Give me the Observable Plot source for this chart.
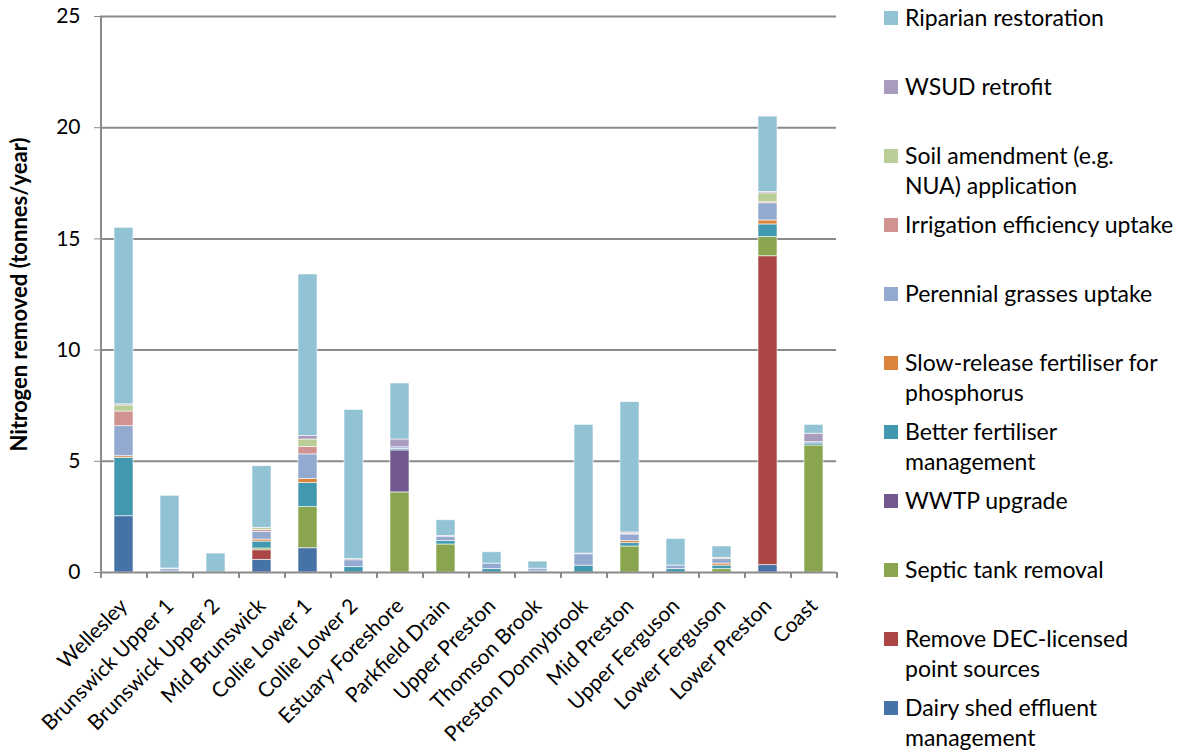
<!DOCTYPE html>
<html>
<head>
<meta charset="utf-8">
<script src="https://cdn.jsdelivr.net/npm/d3@7"></script>
<script src="https://cdn.jsdelivr.net/npm/@observablehq/plot@0.6"></script>
<style>
  html, body { margin: 0; padding: 0; background: #fff; }
  #wrap { position: relative; width: 1182px; height: 753px; font-family: Lato, "Open Sans", sans-serif; }
  #legend { position: absolute; left: 0; top: 0; }
  .item { position: absolute; left: 884px; font-size: 23px; line-height: 29.5px; color: #000; white-space: nowrap; }
  .sw { position: absolute; left: 0; top: 8px; width: 14px; height: 14px; }
  .txt { position: absolute; left: 21px; top: 0; }
</style>
</head>
<body>
<div id="wrap"><div id="chart"></div><div id="legend"></div></div>
<script>
const categories = ["Wellesley","Brunswick Upper 1","Brunswick Upper 2","Mid Brunswick","Collie Lower 1","Collie Lower 2","Estuary Foreshore","Parkfield Drain","Upper Preston","Thomson Brook","Preston Donnybrook","Mid Preston","Upper Ferguson","Lower Ferguson","Lower Preston","Coast"];

// stacked bottom -> top
const seriesNames = ["Dairy shed effluent management","Remove DEC-licensed point sources","Septic tank removal","WWTP upgrade","Better fertiliser management","Slow-release fertiliser  for phosphorus","Perennial grasses uptake","Irrigation efficiency uptake","Soil amendment  (e.g. NUA) application","WSUD retrofit","Riparian restoration"];
const seriesColors = ["#4572a7","#aa4643","#89a54e","#71588f","#4198af","#db843d","#93a9cf","#d19392","#b9cd96","#a99bbd","#92c3d4"];

const dairy      = [2.53,0,0,0.57,1.09,0,0,0,0,0,0,0,0,0,0.33,0];
const decPoint   = [0,0,0,0.43,0,0,0,0,0,0,0,0,0,0,13.89,0];
const septic     = [0,0,0,0.08,1.85,0,3.60,1.26,0,0,0,1.17,0,0.15,0.86,5.71];
const wwtp       = [0,0,0,0,0,0,1.89,0,0,0,0,0,0,0,0,0];
const betterFert = [2.63,0.05,0,0.31,1.08,0.24,0.07,0.15,0.15,0.05,0.31,0.15,0.15,0.16,0.57,0.09];
const slowRel    = [0.07,0,0,0.09,0.18,0,0,0,0,0,0,0.09,0,0.09,0.18,0];
const perennial  = [1.35,0.10,0,0.35,1.11,0.31,0.07,0.18,0.25,0.12,0.51,0.30,0.16,0.20,0.77,0.06];
const irrigation = [0.66,0,0,0.09,0.33,0,0,0,0,0,0,0.04,0,0.06,0.05,0];
const soil       = [0.27,0,0,0.09,0.34,0,0,0,0,0,0,0,0,0,0.40,0];
const wsud       = [0.05,0.03,0,0,0.16,0.05,0.35,0.05,0,0,0.03,0.05,0,0,0.06,0.38];
const riparian   = [7.94,3.27,0.85,2.77,7.26,6.71,2.52,0.71,0.51,0.32,5.79,5.86,1.20,0.51,3.39,0.40];

const seriesValues = [dairy,decPoint,septic,wwtp,betterFert,slowRel,perennial,irrigation,soil,wsud,riparian];
const yTicks = [0,5,10,15,20,25];
const yLabel = "Nitrogen removed (tonnes/year)";

// legend order top -> bottom, with line breaks as in the reference
const legendLines = [
  ["Riparian restoration"],
  ["WSUD retrofit"],
  ["Soil amendment  (e.g.","NUA) application"],
  ["Irrigation efficiency uptake"],
  ["Perennial grasses uptake"],
  ["Slow-release fertiliser  for","phosphorus"],
  ["Better fertiliser","management"],
  ["WWTP upgrade"],
  ["Septic tank removal"],
  ["Remove DEC-licensed","point sources"],
  ["Dairy shed effluent","management"]
];

const rows = [];
seriesNames.forEach((s, si) => {
  categories.forEach((c, ci) => {
    rows.push({cat: c, series: s, value: seriesValues[si][ci]});
  });
});

const W = 1182, H = 753;
const mL = 100, mR = 346, mT = 16, mB = 181;
const step = (W - mL - mR) / categories.length;
const gridCol = "#8a8a8a";

const chart = Plot.plot({
  width: W, height: H,
  marginLeft: mL, marginRight: mR, marginTop: mT, marginBottom: mB,
  style: {fontFamily: "Lato, 'Open Sans', sans-serif", background: "white"},
  x: {domain: categories, paddingInner: 0.59, paddingOuter: 0.295},
  y: {domain: [0, 25]},
  color: {domain: seriesNames, range: seriesColors},
  marks: [
    Plot.ruleY(yTicks.filter(d => d > 0), {stroke: gridCol, strokeWidth: 2}),
    Plot.barY(rows, {x: "cat", y: "value", fill: "series", stroke: "#ffffff", strokeWidth: 0.8, strokeOpacity: 0.75}),
    Plot.ruleY([0], {stroke: gridCol, strokeWidth: 2}),
    Plot.ruleX(categories.slice(0, 1), {x: d => d, dx: -step / 2, stroke: gridCol, strokeWidth: 2}),
    Plot.axisY({ticks: yTicks, tickSize: 6, tickPadding: 14, stroke: gridCol, fill: "#000", fontSize: 21, label: null, tickFormat: d => String(d)}),
    Plot.axisX({tickSize: 0, tickPadding: 30, tickRotate: -45, fill: "#000", fontSize: 21, label: null}),
    Plot.ruleX(categories, {x: d => d, dx: -step / 2, y1: 0, y2: 0, insetBottom: -6, stroke: gridCol, strokeWidth: 2}),
    Plot.ruleX(categories.slice(-1), {x: d => d, dx: step / 2, y1: 0, y2: 0, insetBottom: -6, stroke: gridCol, strokeWidth: 2}),
    Plot.text([yLabel], {frameAnchor: "left", textAnchor: "middle", dx: -81, rotate: -90, fontWeight: "bold", fontSize: 22, fill: "#000"})
  ]
});
document.getElementById("chart").appendChild(chart);

// legend
const leg = document.getElementById("legend");
const legendColors = seriesColors.slice().reverse();
legendLines.forEach((lines, i) => {
  const div = document.createElement("div");
  div.className = "item";
  div.style.top = (18 + i * 69 - 15) + "px";
  const sw = document.createElement("div");
  sw.className = "sw";
  sw.style.background = legendColors[i];
  const t = document.createElement("div");
  t.className = "txt";
  t.innerHTML = lines.join("<br>");
  div.appendChild(sw); div.appendChild(t);
  leg.appendChild(div);
});
</script>
</body>
</html>
